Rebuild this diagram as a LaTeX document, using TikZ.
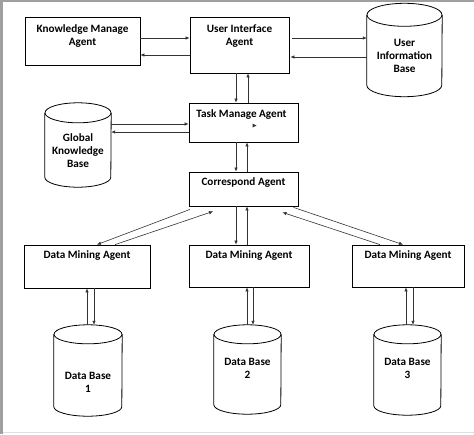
\documentclass[tikz,border=0pt]{standalone}
\usepackage{fontspec}
\setmainfont{Carlito}
\usetikzlibrary{arrows.meta}

\begin{document}
\begin{tikzpicture}[x=1pt,y=-1pt,
    agent/.style={draw, thick, rectangle, inner sep=0pt},
    base/.style={rectangle, inner sep=0pt},
    txt/.style={font=\fontsize{11.2}{13}\selectfont\bfseries, align=center, inner sep=0pt},
    link/.style={draw=black!80, line width=0.6pt, -{Latex[length=4pt,width=3.5pt]}}]
    \useasboundingbox (0,0) rectangle (474,434);
    % Frame
    \fill[gray!75] (0,0) rectangle (474,2);
    \fill[gray!75] (0,0) rectangle (3,434);
    \draw[gray!25] (3,432.5) -- (474,432.5);

    % Agents
    \node[agent, minimum width=115, minimum height=48, label={[txt,yshift=5]center:Knowledge Manage\\Agent}] (kma) at (82.5,41) {};
    \node[agent, minimum width=99, minimum height=56, label={[txt,yshift=9]center:User Interface\\Agent}] (uia) at (239.5,45) {};
    \node[agent, minimum width=109, minimum height=39, label={[txt,xshift=-2,yshift=7.5]center:Task Manage Agent}] (tma) at (243.5,122.5) {};
    \node[agent, minimum width=109, minimum height=34, label={[txt,yshift=6]center:Correspond Agent}] (ca) at (243.5,189) {};
    \node[agent, minimum width=126, minimum height=43, label={[txt,yshift=10.5]center:Data Mining Agent}] (dma1) at (87,266.5) {};
    \node[agent, minimum width=120, minimum height=42, label={[txt,yshift=10]center:Data Mining Agent}] (dma2) at (249,266) {};
    \node[agent, minimum width=112, minimum height=42, label={[txt,yshift=10]center:Data Mining Agent}] (dma3) at (408,266) {};

    % Bases (drawn as cylinders below)
    \node[base, minimum width=75, minimum height=93, label={[txt,yshift=-5.5]center:User\\Information\\Base}] (uib) at (404.5,50) {};
    \node[base, minimum width=66, minimum height=84, label={[txt,yshift=-6]center:Global\\Knowledge\\Base}] (gkb) at (78,145) {};
    \node[base, minimum width=68, minimum height=91, label={[txt,yshift=-11.5]center:Data Base\\1}] (db1) at (88,370.5) {};
    \node[base, minimum width=67, minimum height=89, label={[txt,yshift=1.5]center:Data Base\\2}] (db2) at (247.5,369.5) {};
    \node[base, minimum width=67, minimum height=90, label={[txt,yshift=2]center:Data Base\\3}] (db3) at (407.5,370) {};
    \foreach \b/\rx/\ry in {uib/37.5/11.5, gkb/33/10, db1/34/9.5, db2/33.5/9.5, db3/33.5/9.5} {
        \draw[thick] ([yshift=-\ry pt]\b.north) ellipse [x radius=\rx pt, y radius=\ry pt];
        \draw[thick] ([yshift=-\ry pt]\b.north west) -- ([yshift=\ry pt]\b.south west)
            arc [start angle=180, end angle=360, x radius=\rx pt, y radius=\ry pt]
            -- ([yshift=-\ry pt]\b.north east);
    }

    % Top row
    \draw[link] ([yshift=3]kma.east) -- ([yshift=3]kma.east -| uia.west);
    \draw[link] ([yshift=-14]kma.east -| uia.west) -- ([yshift=-14]kma.east);
    \draw[link] ([yshift=7,xshift=3]uia.east) -- ([yshift=7]uia.east -| uib.west);
    \draw[link] ([yshift=-12]uia.east -| uib.west) -- ([yshift=-12,xshift=1]uia.east);

    % Middle
    \draw[link] ([xshift=-3.5]uia.south) -- ([xshift=-3.5]uia.south |- tma.north);
    \draw[link] ([xshift=8.5]uia.south |- tma.north) -- ([xshift=8.5]uia.south);
    \draw[link] ([yshift=-1.5]tma.west -| gkb.east) -- ([yshift=-1.5]tma.west);
    \draw[link] ([yshift=-9.5]tma.west) -- ([yshift=-9.5]tma.west -| gkb.east);
    \fill[black!80] ([xshift=9,yshift=-1]tma.center) -- ++(4,2) -- ++(-4,2) -- cycle;
    \draw[link] ([xshift=-7.5]tma.south) -- ([xshift=-7.5]tma.south |- ca.north);
    \draw[link] ([xshift=3.5]tma.south |- ca.north) -- ([xshift=3.5]tma.south);

    % Correspond agent to miners
    \draw[link] ([xshift=-53.5,yshift=-3]ca.south) -- ([xshift=10]dma1.north);
    \draw[link] ([xshift=28]dma1.north) -- ([xshift=-30.5,yshift=-5]ca.south);
    \draw[link] ([xshift=-7.5]ca.south) -- ([xshift=-7.5]ca.south |- dma2.north);
    \draw[link] ([xshift=3.5]ca.south |- dma2.north) -- ([xshift=3.5]ca.south);
    \draw[link] ([xshift=50,yshift=-1]ca.south) -- ([xshift=-5]dma3.north);
    \draw[link] ([xshift=-28]dma3.north) -- ([xshift=39,yshift=-6]ca.south);

    % Miners to data bases
    \draw[link] ([xshift=0]dma1.south |- db1.north) -- ([xshift=0]dma1.south);
    \draw[link] ([xshift=7]dma1.south) -- ([xshift=7]dma1.south |- db1.north);
    \draw[link] ([xshift=-2]dma2.south |- db2.north) -- ([xshift=-2]dma2.south);
    \draw[link] ([xshift=4]dma2.south) -- ([xshift=4]dma2.south |- db2.north);
    \draw[link] ([xshift=-2]dma3.south |- db3.north) -- ([xshift=-2]dma3.south);
    \draw[link] ([xshift=5]dma3.south) -- ([xshift=5]dma3.south |- db3.north);
\end{tikzpicture}
\end{document}
